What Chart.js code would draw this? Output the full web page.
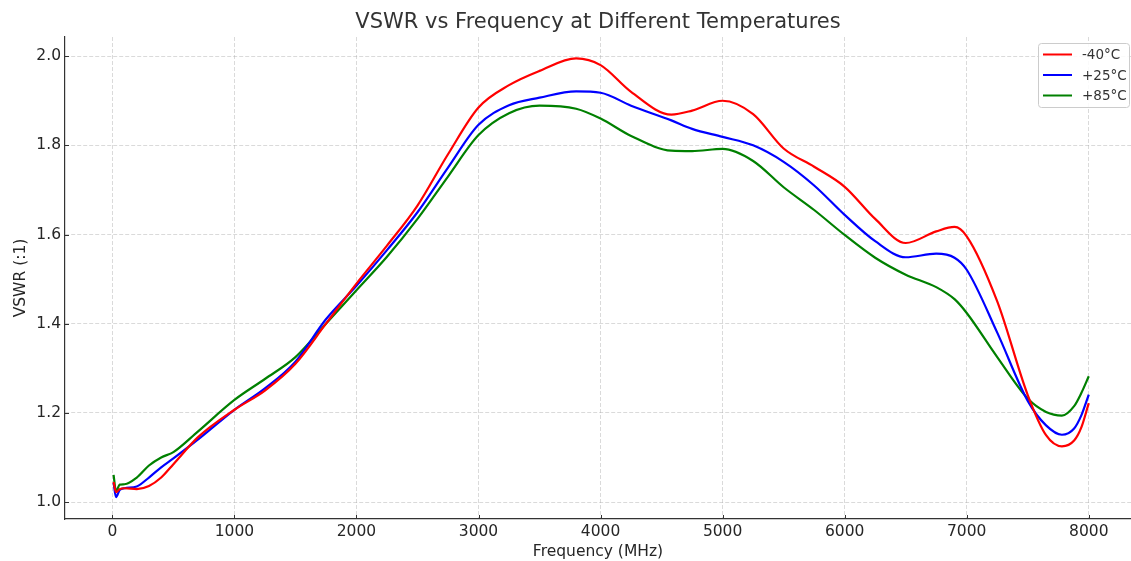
<!DOCTYPE html>
<html>
<head>
<meta charset="utf-8">
<script src="https://cdn.jsdelivr.net/npm/chart.js@4.4.1/dist/chart.umd.min.js"></script>
<style>
  html, body { margin: 0; padding: 0; background: #ffffff; }
  #wrap { width: 1131px; height: 561px; position: relative; }
</style>
</head>
<body>
<div id="wrap"><canvas id="c" width="1131" height="561"></canvas></div>
<script>
const freqs = [10, 30, 60, 100, 200, 300, 400, 500, 700, 1000, 1250, 1500, 1750, 2000, 2250, 2500, 2750, 3000, 3250, 3500, 3800, 4000, 4250, 4580, 4750, 5000, 5250, 5500, 5750, 6000, 6250, 6500, 6750, 6900, 7000, 7250, 7500, 7650, 7780, 7880, 7940, 8000];
const vswrMinus40 = [1.045, 1.022, 1.029, 1.031, 1.029, 1.036, 1.055, 1.085, 1.145, 1.207, 1.25, 1.31, 1.40, 1.49, 1.575, 1.665, 1.78, 1.885, 1.935, 1.967, 1.995, 1.98, 1.92, 1.869, 1.878, 1.90, 1.87, 1.793, 1.752, 1.707, 1.635, 1.581, 1.607, 1.617, 1.596, 1.45, 1.24, 1.15, 1.125, 1.138, 1.168, 1.222];
const vswrPlus25 = [1.043, 1.011, 1.027, 1.031, 1.035, 1.055, 1.078, 1.098, 1.14, 1.207, 1.255, 1.315, 1.41, 1.485, 1.565, 1.65, 1.75, 1.846, 1.89, 1.907, 1.921, 1.918, 1.889, 1.856, 1.837, 1.819, 1.80, 1.763, 1.71, 1.644, 1.585, 1.549, 1.557, 1.548, 1.521, 1.38, 1.227, 1.172, 1.151, 1.165, 1.195, 1.241];
const vswrPlus85 = [1.061, 1.024, 1.039, 1.04, 1.055, 1.082, 1.10, 1.112, 1.158, 1.229, 1.276, 1.325, 1.40, 1.475, 1.55, 1.635, 1.73, 1.823, 1.872, 1.889, 1.882, 1.86, 1.821, 1.788, 1.787, 1.792, 1.765, 1.706, 1.655, 1.599, 1.548, 1.51, 1.482, 1.455, 1.424, 1.325, 1.232, 1.202, 1.194, 1.215, 1.245, 1.282];
const seriesLabels = ['-40°C', '+25°C', '+85°C'];
const seriesColors = ['#ff0000', '#0000ff', '#008000'];
const xTickValues = [0, 1000, 2000, 3000, 4000, 5000, 6000, 7000, 8000];
const yTickValues = [1.0, 1.2, 1.4, 1.6, 1.8, 2.0];
const chartTitle = 'VSWR vs Frequency at Different Temperatures';
const xTitle = 'Frequency (MHz)';
const yTitle = 'VSWR (:1)';

const FONT = "'DejaVu Sans', sans-serif";
const toPts = (vals) => freqs.map((f, i) => ({ x: f, y: vals[i] }));

const inwardTicks = {
  id: 'inwardTicks',
  afterDraw(chart) {
    const ctx = chart.ctx, a = chart.chartArea;
    ctx.save();
    ctx.strokeStyle = '#333333';
    ctx.lineWidth = 1;
    const xs = chart.scales.x, ys = chart.scales.y;
    xs.ticks.forEach(t => {
      const px = Math.round(xs.getPixelForValue(t.value)) + 0.5;
      ctx.beginPath(); ctx.moveTo(px, a.bottom); ctx.lineTo(px, a.bottom - 4); ctx.stroke();
    });
    ys.ticks.forEach(t => {
      const py = Math.round(ys.getPixelForValue(t.value)) + 0.5;
      ctx.beginPath(); ctx.moveTo(a.left, py); ctx.lineTo(a.left + 4, py); ctx.stroke();
    });
    ctx.restore();
  }
};

const innerLegend = {
  id: 'innerLegend',
  afterDraw(chart) {
    const ctx = chart.ctx;
    const bx = 1038.5, by = 43.5, bw = 91, bh = 64, r = 3;
    ctx.save();
    ctx.fillStyle = 'rgba(255,255,255,0.85)';
    ctx.strokeStyle = '#cccccc';
    ctx.lineWidth = 1;
    ctx.beginPath();
    ctx.moveTo(bx + r, by);
    ctx.lineTo(bx + bw - r, by); ctx.quadraticCurveTo(bx + bw, by, bx + bw, by + r);
    ctx.lineTo(bx + bw, by + bh - r); ctx.quadraticCurveTo(bx + bw, by + bh, bx + bw - r, by + bh);
    ctx.lineTo(bx + r, by + bh); ctx.quadraticCurveTo(bx, by + bh, bx, by + bh - r);
    ctx.lineTo(bx, by + r); ctx.quadraticCurveTo(bx, by, bx + r, by);
    ctx.closePath(); ctx.fill(); ctx.stroke();
    ctx.font = '13.5px ' + FONT;
    ctx.textBaseline = 'middle';
    chart.data.datasets.forEach((ds, i) => {
      const y = 54.5 + i * 20.5;
      ctx.strokeStyle = ds.borderColor;
      ctx.lineWidth = 2;
      ctx.beginPath(); ctx.moveTo(1043, y); ctx.lineTo(1072, y); ctx.stroke();
      ctx.fillStyle = '#333333';
      ctx.fillText(ds.label, 1082, y + 1);
    });
    ctx.restore();
  }
};

new Chart(document.getElementById('c'), {
  type: 'line',
  data: {
    datasets: [
      { label: seriesLabels[0], data: toPts(vswrMinus40), borderColor: seriesColors[0] },
      { label: seriesLabels[1], data: toPts(vswrPlus25), borderColor: seriesColors[1] },
      { label: seriesLabels[2], data: toPts(vswrPlus85), borderColor: seriesColors[2] }
    ].map(d => Object.assign(d, { borderWidth: 2.2, pointRadius: 0, fill: false, cubicInterpolationMode: 'monotone' }))
  },
  options: {
    responsive: false,
    animation: false,
    devicePixelRatio: 1,
    layout: { padding: { left: 12, right: 0, top: 0, bottom: 0 } },
    plugins: {
      legend: { display: false },
      tooltip: { enabled: false },
      title: {
        display: true, text: chartTitle, fullSize: false,
        color: '#333333', font: { family: FONT, size: 21, weight: 'normal' },
        padding: { top: 9.5, bottom: 2.3 }
      }
    },
    scales: {
      x: {
        type: 'linear', min: -388, max: 8346,
        afterFit(s) { s.height = 42; s.paddingRight = 0; s.paddingLeft = 0; },
        afterBuildTicks(s) { s.ticks = xTickValues.map(v => ({ value: v })); },
        ticks: { color: '#262626', padding: 4, font: { family: FONT, size: 15.5 },
                 maxRotation: 0, autoSkip: false, callback: v => String(v) },
        grid: { color: 'rgba(170,170,170,0.55)', lineWidth: 0.8, drawTicks: false },
        border: { display: true, color: '#333333', width: 1.2, dash: [4, 2] },
        title: { display: true, text: xTitle, color: '#262626', font: { family: FONT, size: 15.5 }, padding: { top: 0, bottom: 0 } }
      },
      y: {
        type: 'linear', min: 0.962, max: 2.043,
        afterFit(s) { s.width = 53; },
        afterBuildTicks(s) { s.ticks = yTickValues.map(v => ({ value: v })); },
        ticks: { color: '#262626', padding: 4, font: { family: FONT, size: 15.5 },
                 callback: v => Number(v).toFixed(1) },
        grid: { color: 'rgba(170,170,170,0.55)', lineWidth: 0.8, drawTicks: false },
        border: { display: true, color: '#333333', width: 1.2, dash: [4, 2] },
        title: { display: true, text: yTitle, color: '#262626', font: { family: FONT, size: 15.5 }, padding: { top: 0, bottom: 0 } }
      }
    }
  },
  plugins: [inwardTicks, innerLegend]
});
</script>
</body>
</html>
